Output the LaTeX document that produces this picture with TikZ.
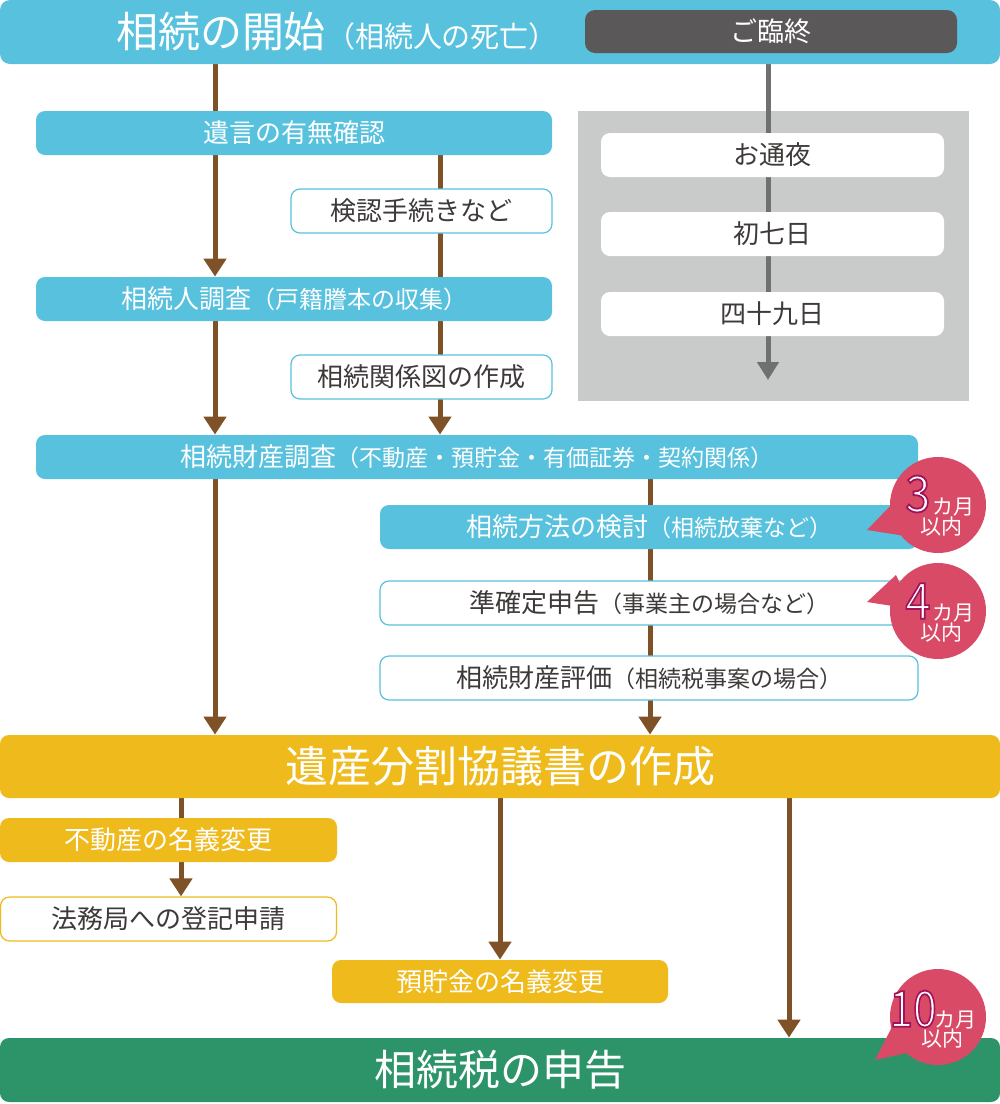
\documentclass[tikz,border=0pt]{standalone}
\usepackage{fontspec}
\setmainfont{Noto Sans CJK JP}
\usepackage{graphicx}
\usetikzlibrary{arrows.meta}
\definecolor{cblue}{HTML}{57C1DE}
\definecolor{cdark}{HTML}{5A5859}
\definecolor{cpanel}{HTML}{C9CACA}
\definecolor{cbrown}{HTML}{7E5126}
\definecolor{cgrayline}{HTML}{717071}
\definecolor{cyellow}{HTML}{EFBA1C}
\definecolor{cgreen}{HTML}{2D9469}
\definecolor{cred}{HTML}{D94A66}
\definecolor{ctext}{HTML}{3E3A39}
\newcommand\fsz[1]{\fontsize{#1}{#1}\selectfont}
\newcommand\outlinednum[1]{\special{pdf:literal direct 2 Tr 0.9 w 0.627 0.071 0.353 RG}#1\special{pdf:literal direct 0 Tr}}
\pgfdeclarelayer{panellayer}
\pgfdeclarelayer{linelayer}
\pgfsetlayers{panellayer,linelayer,main}
\tikzset{
  basebox/.style={rounded corners=4.5pt, inner sep=0pt, minimum height=22pt, font=\fsz{13}},
  bluebox/.style={basebox, fill=cblue, text=white},
  bluewhite/.style={basebox, fill=white, draw=cblue, line width=0.6pt, text=ctext},
  yellowbox/.style={basebox, fill=cyellow, text=white},
  yellowwhite/.style={basebox, fill=white, draw=cyellow, line width=0.6pt, text=ctext},
  panelbox/.style={basebox, fill=white, text=ctext},
  flow/.style={draw=cbrown, line width=2.5pt},
  flowarrow/.style={flow, -{Triangle[width=11pt,length=9pt]}},
  grayarrow/.style={draw=cgrayline, line width=2.5pt, -{Triangle[width=10.5pt,length=9pt]}},
  badgefill/.style={fill=cred},
  bignum/.style={text=white, font=\fsz{25}, inner sep=0pt},
  smalltxt/.style={text=white, font=\fsz{10.5}, inner sep=0pt},
}
\begin{document}
\begin{tikzpicture}[x=0.5pt,y=-0.5pt]
\useasboundingbox (0,0) rectangle (1000,1104);
% column coordinates
\coordinate (cL) at (215,0);
\coordinate (cM) at (440,0);
\coordinate (cR) at (650,0);
\coordinate (cG) at (768,0);
\coordinate (cF) at (181,0);
\coordinate (cY) at (500,0);
\coordinate (cZ) at (789,0);

% top bar
\node[rounded corners=5pt, fill=cblue, minimum width=500pt, minimum height=32pt, inner sep=0pt] (top) at (500,32) {};
\node[text=white, inner sep=0pt] (toptext) at (337,32) {{\fsz{21}相続の開始}{\fsz{14.5}（相続人の死亡）}};
\node[rounded corners=5pt, fill=cdark, text=white, minimum width=186pt, minimum height=21.5pt, inner sep=0pt, font=\fsz{13.5}] (rinju) at (771,31.5) {ご臨終};

% panel
\begin{pgfonlayer}{panellayer}
\node[fill=cpanel, minimum width=195.5pt, minimum height=145pt, inner sep=0pt] (panel) at (773.5,256) {};
\end{pgfonlayer}
\node[panelbox, minimum width=171.5pt] (tsuya) at (772.5,155) {お通夜};
\node[panelbox, minimum width=171.5pt] (nanoka) at (772.5,234) {初七日};
\node[panelbox, minimum width=171.5pt] (shiju) at (772.5,314) {四十九日};
\coordinate (grayend) at (768,380);

% left flow
\node[bluebox, minimum width=258pt] (will) at (294,133) {遺言の有無確認};
\node[bluewhite, minimum width=130.5pt] (kennin) at (421.5,211) {検認手続きなど};
\node[bluebox, minimum width=258pt] (chosa) at (294,299) {相続人調査{\fsz{12}（戸籍謄本の収集）}};
\node[bluewhite, minimum width=130.5pt] (kankei) at (421.5,377) {相続関係図の作成};
\node[bluebox, minimum width=441pt] (zaisan) at (477,457) {相続財産調査{\fsz{11.5}（不動産・預貯金・有価証券・契約関係）}};
\node[bluebox, minimum width=269pt] (houhou) at (649,527) {相続方法の検討{\fsz{11.5}（相続放棄など）}};
\node[bluewhite, minimum width=269pt] (junkaku) at (649,603) {準確定申告{\fsz{11.5}（事業主の場合など）}};
\node[bluewhite, minimum width=269pt] (hyoka) at (649,678) {相続財産評価{\fsz{11.5}（相続税事案の場合）}};

\node[yellowbox, minimum width=500pt, minimum height=31.5pt, font=\fsz{21.5}] (bunkatsu) at (500,766.5) {遺産分割協議書の作成};
\node[yellowbox, minimum width=168.5pt] (fudosan) at (168.5,840) {不動産の名義変更};
\node[yellowwhite, minimum width=168pt] (homu) at (168.5,919) {法務局への登記申請};
\node[yellowbox, minimum width=168pt, minimum height=21.5pt] (yochokin) at (500,981.5) {預貯金の名義変更};
\node[basebox, fill=cgreen, text=white, minimum width=500pt, minimum height=32pt, font=\fsz{21}] (zei) at (500,1070) {相続税の申告};

% connectors
\begin{pgfonlayer}{linelayer}
\draw[grayarrow] (rinju.south -| cG) -- (grayend);
\draw[flow] (top.south -| cL) -- (will.north -| cL);
\draw[flowarrow] (will.south -| cL) -- (chosa.north -| cL);
\draw[flow] (will.south -| cM) -- (chosa.north -| cM);
\draw[flowarrow] (chosa.south -| cL) -- (zaisan.north -| cL);
\draw[flowarrow] (chosa.south -| cM) -- (zaisan.north -| cM);
\draw[flowarrow] (zaisan.south -| cL) -- (bunkatsu.north -| cL);
\draw[flowarrow] (zaisan.south -| cR) -- (bunkatsu.north -| cR);
\draw[flowarrow] (bunkatsu.south -| cF) -- (homu.north -| cF);
\draw[flowarrow] (bunkatsu.south -| cY) -- (yochokin.north);
\draw[flowarrow] (bunkatsu.south -| cZ) -- (zei.north -| cZ);
\end{pgfonlayer}

% badges
\fill[badgefill] (938,505) circle[radius=24pt];
\fill[badgefill] (867,530) -- (896,500) -- (912,537) -- cycle;
\node[bignum] (n3) at (918,494) {\scalebox{0.9}[1]{\outlinednum{3}}};
\node[smalltxt] (k3) at (953,507) {カ月};
\node[smalltxt] (i3) at (941,527) {以内};

\fill[badgefill] (938,611) circle[radius=24pt];
\fill[badgefill] (867,602) -- (896,575) -- (912,609) -- cycle;
\node[bignum] (n4) at (918,601) {\scalebox{0.9}[1]{\outlinednum{4}}};
\node[smalltxt] (k4) at (953,613) {カ月};
\node[smalltxt] (i4) at (941,633) {以内};

\fill[badgefill] (938,1017) circle[radius=24pt];
\fill[badgefill] (875,1060) -- (893,1025) -- (907,1053) -- cycle;
\node[bignum] (n10) at (913,1009) {\scalebox{0.85}[1]{\outlinednum{10}}};
\node[smalltxt] (k10) at (955,1020) {カ月};
\node[smalltxt] (i10) at (942,1039) {以内};
\end{tikzpicture}
\end{document}
